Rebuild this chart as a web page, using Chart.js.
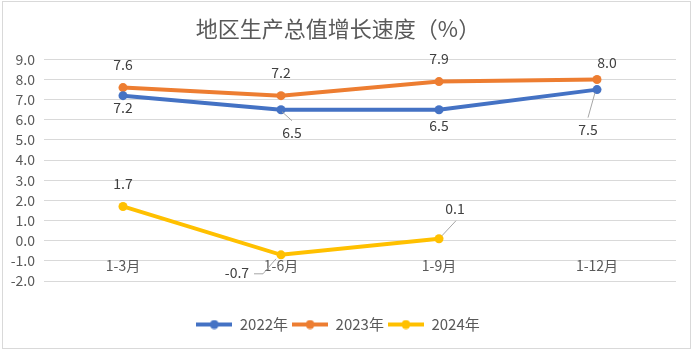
<!DOCTYPE html>
<html>
<head>
<meta charset="utf-8">
<script src="https://cdn.jsdelivr.net/npm/chart.js@4.4.1/dist/chart.umd.min.js"></script>
<style>
  html, body { margin: 0; padding: 0; background: #fff; }
  #wrap { width: 693px; height: 351px; position: relative; }
</style>
</head>
<body>
<div id="wrap"><canvas id="gdp"></canvas></div>
<script>
// data
const categories = ['1-3月', '1-6月', '1-9月', '1-12月'];
const seriesNames = ['2022年', '2023年', '2024年'];
const values2022 = [7.2, 6.5, 6.5, 7.5];
const values2023 = [7.6, 7.2, 7.9, 8.0];
const values2024 = [1.7, -0.7, 0.1, null];
const yMin = -2;
const yMax = 9;

const COLORS = ['#4472C4', '#ED7D31', '#FFC000'];
const FONT = "'Noto Sans CJK SC', 'Noto Sans', sans-serif";

// where each data label sits relative to its point, plus optional leader line
const labelLayout = [
  [{ dx: 0, dy: 12 }, { dx: 11, dy: 23, leader: [[1, 2], [11, 11]] }, { dx: 0, dy: 16 }, { dx: -9, dy: 40, leader: [[-2, 3], [-9, 28]] }],
  [{ dx: 0, dy: -23 }, { dx: 0, dy: -23 }, { dx: 0, dy: -23 }, { dx: 10, dy: -17 }],
  [{ dx: 0, dy: -23 }, { dx: -44, dy: 18, leader: [[-5, 4], [-18, 19], [-27, 19]] }, { dx: 16, dy: -30, leader: [[3, -3], [17, -18]] }, null]
];

function legendIcon(color) {
  const c = document.createElement('canvas');
  c.width = 36; c.height = 10;
  const g = c.getContext('2d');
  g.strokeStyle = color; g.lineWidth = 4;
  g.beginPath(); g.moveTo(0, 5); g.lineTo(36, 5); g.stroke();
  g.fillStyle = color;
  g.beginPath(); g.arc(18, 5, 4.5, 0, Math.PI * 2); g.fill();
  return c;
}

const dataLabels = {
  id: 'dataLabels',
  afterDatasetsDraw(chart) {
    const { ctx } = chart;
    ctx.save();
    chart.data.datasets.forEach((ds, i) => {
      chart.getDatasetMeta(i).data.forEach((pt, j) => {
        const v = ds.data[j];
        const lay = labelLayout[i][j];
        if (v == null || !lay) return;
        if (lay.leader) {
          ctx.strokeStyle = '#A6A6A6';
          ctx.lineWidth = 1;
          ctx.beginPath();
          lay.leader.forEach(([lx, ly], k) => {
            if (k === 0) ctx.moveTo(pt.x + lx, pt.y + ly);
            else ctx.lineTo(pt.x + lx, pt.y + ly);
          });
          ctx.stroke();
        }
        ctx.font = `14px ${FONT}`;
        ctx.fillStyle = '#404040';
        ctx.textAlign = 'center';
        ctx.textBaseline = 'middle';
        ctx.fillText(v.toFixed(1), pt.x + lay.dx, pt.y + lay.dy);
      });
    });
    ctx.restore();
  }
};

const frame = {
  id: 'frame',
  afterDraw(chart) {
    const { ctx } = chart;
    ctx.save();
    ctx.strokeStyle = '#D9D9D9';
    ctx.lineWidth = 1;
    ctx.strokeRect(2.5, 1.5, 688, 347);
    ctx.restore();
  }
};

const allValues = [values2022, values2023, values2024];

new Chart(document.getElementById('gdp'), {
  type: 'line',
  data: {
    labels: categories,
    datasets: allValues.map((vals, i) => ({
      label: seriesNames[i],
      data: vals,
      borderColor: COLORS[i],
      backgroundColor: COLORS[i],
      borderWidth: 4,
      pointRadius: 4.5,
      pointHoverRadius: 4.5,
      pointBorderWidth: 0,
      tension: 0,
      spanGaps: false
    }))
  },
  options: {
    responsive: true,
    maintainAspectRatio: false,
    animation: false,
    layout: { padding: { left: 0, right: 17, top: 0, bottom: 9 } },
    plugins: {
      title: {
        display: true,
        text: '地区生产总值增长速度（%）',
        color: '#595959',
        font: { family: FONT, size: 22, weight: 'normal' },
        padding: { top: 15, bottom: 18 }
      },
      legend: {
        position: 'bottom',
        title: { display: true, text: '', font: { size: 10 }, padding: { top: 20, bottom: 0 } },
        labels: {
          color: '#595959',
          font: { family: FONT, size: 15 },
          usePointStyle: true,
          pointStyleWidth: 36,
          padding: 4,
          generateLabels: (chart) => chart.data.datasets.map((ds, i) => ({
            text: ds.label,
            pointStyle: legendIcon(COLORS[i]),
            fontColor: '#595959',
            datasetIndex: i,
            hidden: false,
            lineWidth: 0
          }))
        }
      },
      tooltip: { enabled: false }
    },
    scales: {
      x: {
        position: { y: 0 },
        offset: true,
        grid: { display: false, offset: true },
        border: { display: false },
        ticks: { color: '#595959', font: { family: FONT, size: 14 }, padding: 9 }
      },
      y: {
        min: yMin,
        max: yMax,
        afterFit: (scale) => { scale.width = 44; },
        grid: { color: '#D9D9D9', drawTicks: false },
        border: { display: false },
        ticks: {
          stepSize: 1,
          padding: 9,
          color: '#595959',
          font: { family: FONT, size: 14 },
          callback: (v) => Number(v).toFixed(1)
        }
      }
    }
  },
  plugins: [dataLabels, frame]
});
</script>
</body>
</html>
